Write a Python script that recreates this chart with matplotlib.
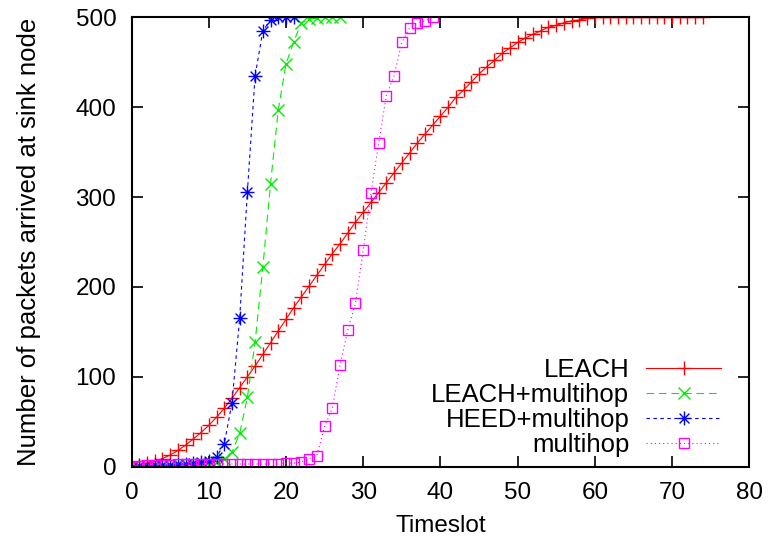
import matplotlib
matplotlib.use("Agg")
import matplotlib.pyplot as plt
from matplotlib.path import Path

plt.rcParams['font.family'] = ['Liberation Sans', 'DejaVu Sans']
plt.rcParams['lines.scale_dashes'] = False

# ---- data ----
leach_x = list(range(0, 75))
leach_y = [0, 2, 4, 6, 9, 13, 18, 24, 31, 38,
           46, 55, 65, 76, 88, 100, 112, 125, 138, 151,
           164, 177, 189, 201, 213, 225, 237, 248, 260, 272,
           283, 294, 305, 316, 327, 338, 349, 360, 370, 380,
           390, 400, 411, 419, 428, 437, 445, 452, 460, 466,
           472, 477, 481, 485, 489, 491, 494, 496, 497, 499,
           500, 500, 500, 500, 500, 500, 500, 500, 500, 500,
           500, 500, 500, 500, 500]

lm_x = list(range(0, 28))
lm_y = [0, 0, 1, 1, 1, 1, 2, 2, 2, 3,
        3, 5, 8, 16, 37, 77, 139, 222, 315, 397,
        448, 473, 494, 498, 499, 500, 500, 500]

heed_x = list(range(0, 22))
heed_y = [0, 1, 1, 2, 2, 2, 3, 3, 4, 5,
          6, 11, 25, 71, 165, 306, 435, 485, 497, 500,
          500, 500]

mh_x = list(range(0, 40))
mh_y = [0, 1, 2, 2, 2, 2, 3, 3, 3, 3,
        3, 3, 3, 3, 3, 3, 3, 3, 3, 3,
        4, 4, 5, 9, 12, 45, 65, 113, 152, 182,
        241, 304, 360, 413, 435, 472, 488, 494, 496, 500]

labels = ["LEACH", "LEACH+multihop", "HEED+multihop", "multihop"]

# gnuplot-style asterisk (+ and x combined)
s = 0.7071
star = Path([(-1, 0), (1, 0), (0, -1), (0, 1), (-s, -s), (s, s), (-s, s), (s, -s)],
            [Path.MOVETO, Path.LINETO] * 4)

fig = plt.figure(figsize=(7.74, 5.48), dpi=100)
ax = fig.add_axes([0.170, 0.1484, 0.798, 0.8200])

lw = 0.8
ax.plot(leach_x, leach_y, color='#ff0000', lw=lw, ls='-', marker='+',
        markersize=10, markeredgewidth=1.0, label=labels[0])
ax.plot(lm_x, lm_y, color='#00ee00', lw=lw, ls=(0, (5.5, 3.5)), marker='x',
        markersize=8, markeredgewidth=1.0, label=labels[1])
ax.plot(heed_x, heed_y, color='#0000ff', lw=lw, ls=(0, (2.5, 2.5)), marker=star,
        markersize=10, markeredgewidth=1.0, label=labels[2])
ax.plot(mh_x, mh_y, color='#ff00ff', lw=lw, ls=(0, (0.8, 2.2)), marker='s',
        markersize=7.5, markerfacecolor='none', markeredgewidth=1.0, label=labels[3])

ax.set_xlim(0, 80)
ax.set_ylim(0, 500)
ax.set_xticks(range(0, 81, 10))
ax.set_yticks(range(0, 501, 100))
ax.tick_params(direction='in', length=8, width=1.2, top=True, right=True,
               labelsize=17.5)
ax.tick_params(axis='x', pad=11)
ax.tick_params(axis='y', pad=11)
for sp in ax.spines.values():
    sp.set_linewidth(1.5)

ax.set_xlabel("Timeslot", fontsize=17.5, labelpad=8)
ax.set_ylabel("Number of packets arrived at sink node", fontsize=18.5, labelpad=25)

leg = ax.legend(loc='lower right', bbox_to_anchor=(0.954, 0.022), frameon=False,
                markerfirst=False, fontsize=18.5, handlelength=2.9, handletextpad=0.66,
                labelspacing=0.04, borderpad=0, borderaxespad=0)

fig.savefig("out.png", dpi=100)
